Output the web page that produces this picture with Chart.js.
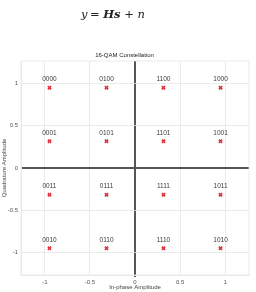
<!DOCTYPE html>
<html><head><meta charset="utf-8">
<script src="https://cdn.jsdelivr.net/npm/chart.js@4/dist/chart.umd.min.js"></script>
<style>
html,body{margin:0;padding:0;background:#fff;width:256px;height:292px;overflow:hidden}
#wrap{position:absolute;left:0;top:0;width:256px;height:292px}
#eq{position:absolute;left:0;width:226px;top:7px;text-align:center;font-family:"DejaVu Serif","Liberation Serif",serif;font-style:italic;font-size:11.5px;color:#222}
#eq b{font-weight:bold}
</style></head>
<body>
<div id="wrap"><canvas id="c" width="256" height="292"></canvas></div>
<div id="eq">y&thinsp;= <b>Hs</b> + n</div>
<script>
const symbols = ['0000','0100','1100','1000','0001','0101','1101','1001','0011','0111','1111','1011','0010','0110','1110','1010'];
const inPhase = [-0.949,-0.316,0.316,0.949,-0.949,-0.316,0.316,0.949,-0.949,-0.316,0.316,0.949,-0.949,-0.316,0.316,0.949];
const quadrature = [0.949,0.949,0.949,0.949,0.316,0.316,0.316,0.316,-0.316,-0.316,-0.316,-0.316,-0.949,-0.949,-0.949,-0.949];
const xTicks = [-1,-0.5,0,0.5,1];
const yTicks = [-1,-0.5,0,0.5,1];
const axisLimit = 1.265;

const labelPlugin = {
  id:'pointLabels',
  afterDatasetsDraw(chart){
    const ctx = chart.ctx;
    const meta = chart.getDatasetMeta(0);
    ctx.save();
    ctx.font = '6.5px "Liberation Sans", Arial, sans-serif';
    ctx.fillStyle = '#3a3a3a';
    ctx.textAlign = 'center';
    ctx.textBaseline = 'middle';
    meta.data.forEach((pt,i)=>{ ctx.fillText(symbols[i], pt.x, pt.y - 8.5); });
    ctx.restore();
  }
};

const gridColor = (c)=> c.tick && c.tick.value === 0 ? '#555' : '#e6e6e6';
const gridWidth = (c)=> c.tick && c.tick.value === 0 ? 2 : 0.8;
const tickFont = {family:'"Liberation Sans", Arial, sans-serif', size:6};

new Chart(document.getElementById('c'), {
  type:'scatter',
  data:{ datasets:[{
    data: inPhase.map((x,i)=>({x:x, y:quadrature[i]})),
    pointStyle:'crossRot', radius:2.3, borderWidth:1.6,
    borderColor:'#e0303a', backgroundColor:'#e0303a', hoverRadius:2.3
  }]},
  options:{
    responsive:false, animation:false, devicePixelRatio:1,
    layout:{padding:{top:51.8,right:7,left:0,bottom:0}},
    plugins:{
      legend:{display:false}, tooltip:{enabled:false},
      title:{display:true, text:'16-QAM Constellation', color:'#222',
        font:{family:'"Liberation Sans", Arial, sans-serif', size:6, weight:'normal'},
        padding:{top:0,bottom:2}}
    },
    scales:{
      x:{type:'linear', min:-axisLimit, max:axisLimit,
        afterBuildTicks:(s)=>{ s.ticks = xTicks.map(v=>({value:v})); },
        afterFit:(s)=>{ s.height = 17; },
        ticks:{font:tickFont, color:'#555', padding:2, maxRotation:0,
          callback:(v)=>String(v)},
        grid:{color:gridColor, lineWidth:gridWidth, drawTicks:true, tickLength:2, tickColor:(c)=> c.tick && c.tick.value===0 ? '#555' : 'rgba(0,0,0,0)'},
        border:{display:true, color:'#e6e6e6', width:0.8},
        title:{display:true, text:'In-phase Amplitude', color:'#444',
          font:{family:'"Liberation Sans", Arial, sans-serif', size:6}, padding:{top:0,bottom:1.5}}
      },
      y:{type:'linear', min:-axisLimit, max:axisLimit,
        afterBuildTicks:(s)=>{ s.ticks = yTicks.map(v=>({value:v})); },
        afterFit:(s)=>{ s.width = 21; },
        ticks:{font:tickFont, color:'#555', padding:3, callback:(v)=>String(v)},
        grid:{color:gridColor, lineWidth:gridWidth, drawTicks:false},
        border:{display:true, color:'#e6e6e6', width:0.8},
        title:{display:true, text:'Quadrature Amplitude', color:'#444',
          font:{family:'"Liberation Sans", Arial, sans-serif', size:6}, padding:{top:1,bottom:0}}
      }
    }
  },
  plugins:[labelPlugin, {
    id:'frame',
    afterDraw(chart){
      const {ctx, chartArea:a} = chart;
      ctx.save(); ctx.strokeStyle='#e6e6e6'; ctx.lineWidth=0.8;
      ctx.strokeRect(a.left, a.top, a.right-a.left, a.bottom-a.top);
      ctx.restore();
    }
  }]
});
</script>
</body></html>
